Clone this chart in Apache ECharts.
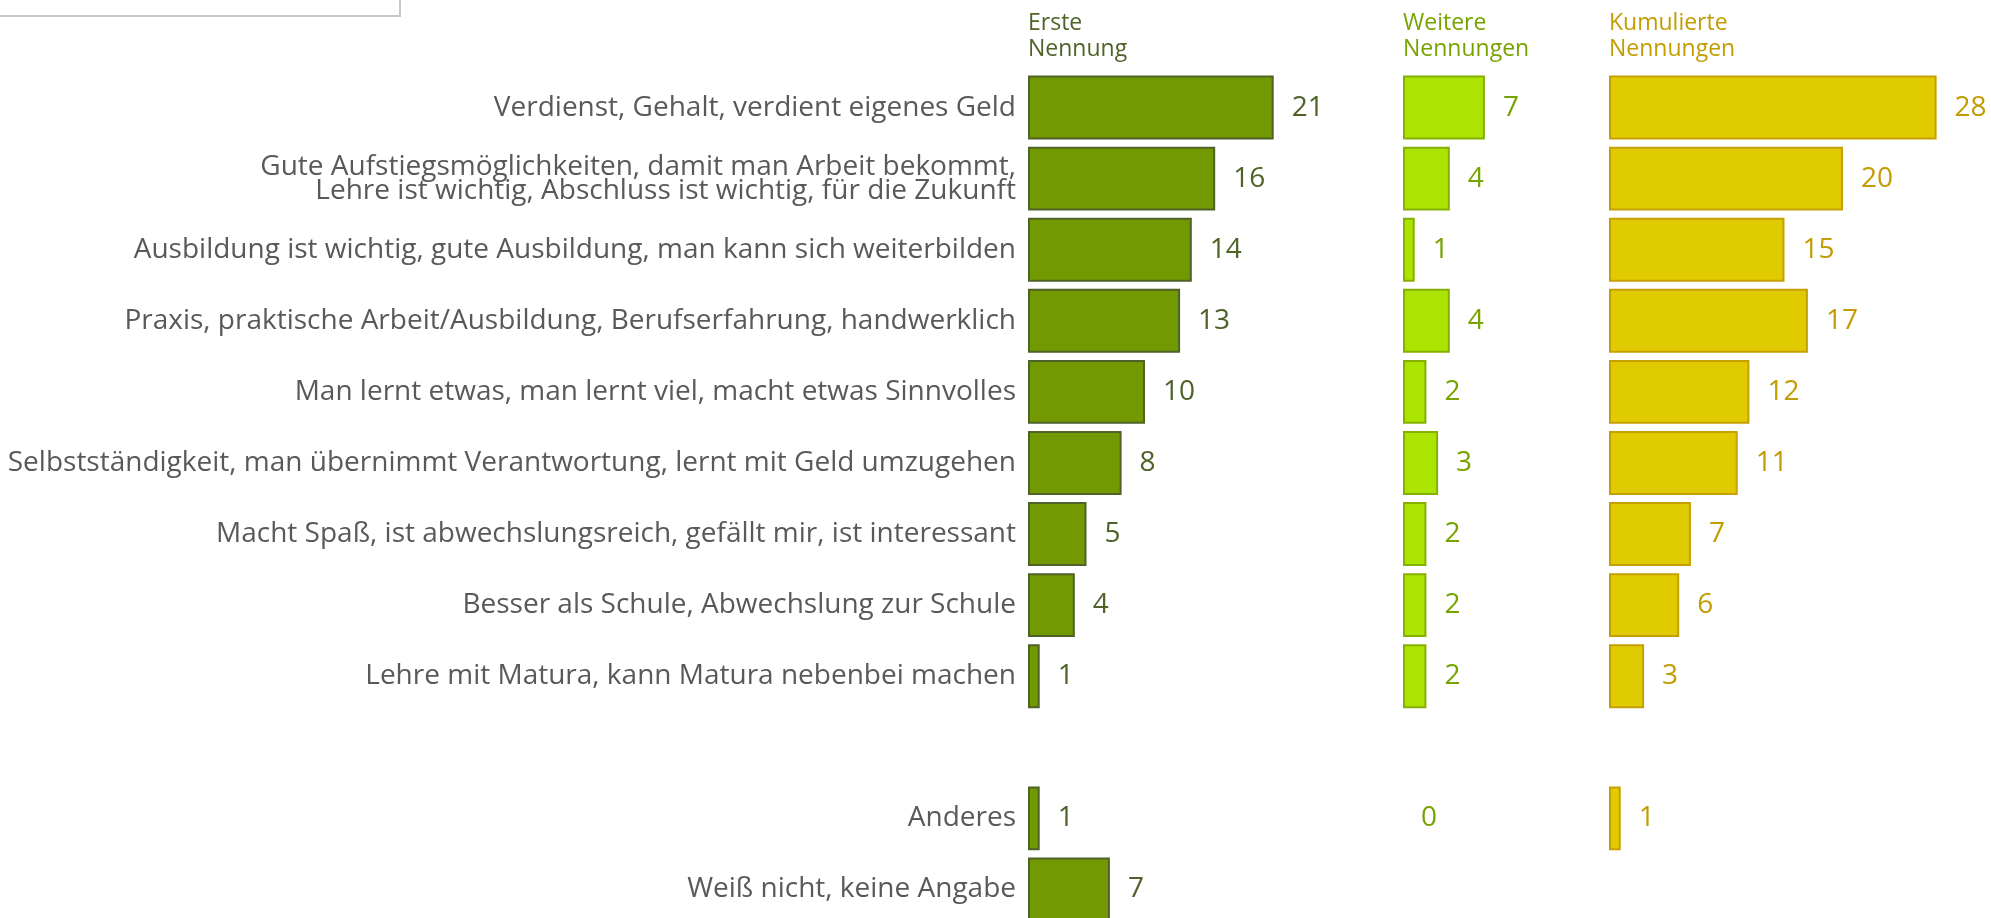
<!DOCTYPE html>
<html>
<head>
<meta charset="utf-8">
<script src="https://cdn.jsdelivr.net/npm/echarts@6/dist/echarts.min.js"></script>
<style>
html, body { margin: 0; padding: 0; background: #fff; }
#chart { width: 1991px; height: 918px; }
</style>
</head>
<body>
<div id="chart"></div>
<script>
var categories = [
    'Verdienst, Gehalt, verdient eigenes Geld',
    'Gute Aufstiegsmöglichkeiten, damit man Arbeit bekommt,\nLehre ist wichtig, Abschluss ist wichtig, für die Zukunft',
    'Ausbildung ist wichtig, gute Ausbildung, man kann sich weiterbilden',
    'Praxis, praktische Arbeit/Ausbildung, Berufserfahrung, handwerklich',
    'Man lernt etwas, man lernt viel, macht etwas Sinnvolles',
    'Selbstständigkeit, man übernimmt Verantwortung, lernt mit Geld umzugehen',
    'Macht Spaß, ist abwechslungsreich, gefällt mir, ist interessant',
    'Besser als Schule, Abwechslung zur Schule',
    'Lehre mit Matura, kann Matura nebenbei machen',
    '',
    'Anderes',
    'Weiß nicht, keine Angabe'
];
var ersteNennung   = [21, 16, 14, 13, 10, 8, 5, 4, 1, '-', 1, 7];
var weitereNennung = [7, 4, 1, 4, 2, 3, 2, 2, 2, '-', 0, '-'];
var kumuliert      = [28, 20, 15, 17, 12, 11, 7, 6, 3, '-', 1, '-'];
var headers = ['Erste\nNennung', 'Weitere\nNennungen', 'Kumulierte\nNennungen'];

var FONT = '"Open Sans", sans-serif';
var panelLeft = [1028, 1403, 1609];
var fills   = ['#729900', '#aae400', '#e0cb00'];
var borders = ['#4f6228', '#86b000', '#c6a000'];
var textCol = ['#4f6228', '#77a300', '#c29c00'];

function barData(values){
    return values.map(function(v){
        // a zero value draws no outline
        if (v === 0) {
            return { value: 0, itemStyle: { borderWidth: 0 } };
        }
        return v;
    });
}

function axisData(){
    return categories.map(function(c){
        if (c.indexOf('\n') >= 0) {
            // two-line label sits a little higher, tighter lines
            return { value: c, textStyle: { lineHeight: 24, padding: [0, 0, 12, 0] } };
        }
        return c;
    });
}

function lehreChart(ele){
    var chart = echarts.init(ele, null, { renderer: 'canvas' });
    var all = [ersteNennung, weitereNennung, kumuliert];
    var grids = [], xAxes = [], yAxes = [], series = [], graphics = [];

    for (var i = 0; i < 3; i++) {
        grids.push({
            left: panelLeft[i], top: 72, width: 351, height: 853,
            containLabel: false, outerBoundsMode: 'none'
        });
        xAxes.push({ gridIndex: i, type: 'value', min: 0, max: 30, show: false });
        yAxes.push({
            gridIndex: i,
            type: 'category',
            inverse: true,
            data: axisData(),
            axisLine: { show: false },
            axisTick: { show: false },
            splitLine: { show: false },
            axisLabel: {
                show: i === 0,
                margin: 12,
                color: '#595959',
                fontFamily: FONT,
                fontSize: 28,
                lineHeight: 24,
                align: 'right'
            }
        });
        series.push({
            type: 'bar',
            xAxisIndex: i,
            yAxisIndex: i,
            data: barData(all[i]),
            barCategoryGap: '10%',
            itemStyle: { color: fills[i], borderColor: borders[i], borderWidth: 2 },
            label: {
                show: true,
                position: 'right',
                distance: 18,
                color: textCol[i],
                fontFamily: FONT,
                fontSize: 28
            },
            silent: true
        });
        graphics.push({
            type: 'text',
            left: panelLeft[i],
            top: 10,
            style: {
                text: headers[i],
                fill: textCol[i],
                font: '23px ' + FONT,
                lineHeight: 26
            }
        });
    }
    graphics.push({
        type: 'rect',
        shape: { x: -2, y: -2, width: 402, height: 18 },
        style: { fill: '#fff', stroke: '#c8c8c8', lineWidth: 2 }
    });

    var option = {
        backgroundColor: '#fff',
        animation: false,
        grid: grids,
        xAxis: xAxes,
        yAxis: yAxes,
        series: series,
        graphic: graphics
    };
    chart.setOption(option);
}
lehreChart(document.getElementById('chart'));
</script>
</body>
</html>
